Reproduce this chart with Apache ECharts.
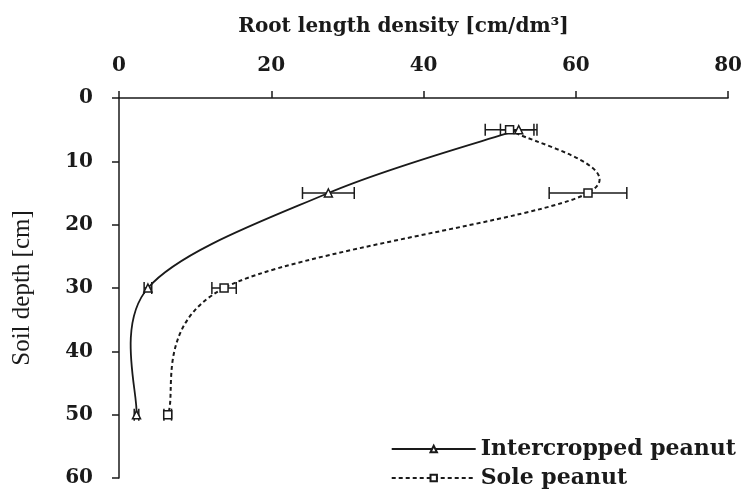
<!DOCTYPE html>
<html>
<head>
<meta charset="utf-8">
<script src="https://cdn.jsdelivr.net/npm/echarts@6/dist/echarts.min.js"></script>
<style>
  html, body { margin: 0; padding: 0; background: #fff; }
  #chart { width: 745px; height: 494px; }
</style>
</head>
<body>
<div id="chart"></div>
<script>
// soil depth of each sample [cm]
const depths = [5, 15, 30, 50];
// root length density [cm/dm3] and error
const intercropped = [52.5, 27.5, 3.8, 2.3];
const intercroppedErr = [2.4, 3.4, 0.5, 0.3];
const sole = [51.3, 61.6, 13.8, 6.4];
const soleErr = [3.2, 5.1, 1.6, 0.5];

const xTicks = [0, 20, 40, 60, 80];
const yTicks = [0, 10, 20, 30, 40, 50, 60];

const font = 'DejaVu Serif';
const ink = '#1a1a1a';

let myChart = echarts.init(document.getElementById('chart'));

function pairs (vals) {
  return vals.map((v, i) => [v, depths[i]]);
}
function errData (vals, errs) {
  return vals.map((v, i) => [v, depths[i], errs[i]]);
}

// horizontal error bar with caps
function renderErr (params, api) {
  let x = api.value(0);
  let y = api.value(1);
  let e = api.value(2);
  let p1 = api.coord([x - e, y]);
  let p2 = api.coord([x + e, y]);
  let h = 6;
  let style = { stroke: ink, lineWidth: 1.5 };
  return {
    type: 'group',
    children: [
      { type: 'line', shape: { x1: p1[0], y1: p1[1], x2: p2[0], y2: p2[1] }, style: style },
      { type: 'line', shape: { x1: p1[0], y1: p1[1] - h, x2: p1[0], y2: p1[1] + h }, style: style },
      { type: 'line', shape: { x1: p2[0], y1: p2[1] - h, x2: p2[0], y2: p2[1] + h }, style: style }
    ]
  };
}

// excel-like smoothed line: one bezier piece per segment (catmull-rom control points)
function smoothRenderer (vals, lineStyle) {
  return function (params, api) {
    let i = params.dataIndex;
    let n = vals.length;
    if (i >= n - 1) return null;
    let pt = k => {
      k = Math.max(0, Math.min(n - 1, k));
      return api.coord([vals[k], depths[k]]);
    };
    let p0 = pt(i - 1), p1 = pt(i), p2 = pt(i + 1), p3 = pt(i + 2);
    return {
      type: 'bezierCurve',
      shape: {
        x1: p1[0], y1: p1[1],
        x2: p2[0], y2: p2[1],
        cpx1: p1[0] + (p2[0] - p0[0]) / 6,
        cpy1: p1[1] + (p2[1] - p0[1]) / 6,
        cpx2: p2[0] - (p3[0] - p1[0]) / 6,
        cpy2: p2[1] - (p3[1] - p1[1]) / 6
      },
      style: Object.assign({ fill: null, stroke: ink }, lineStyle)
    };
  };
}

let option = {
  animation: false,
  grid: {
    left: 119,
    right: 14,
    top: 98,
    bottom: 16
  },
  xAxis: {
    type: 'value',
    position: 'top',
    min: 0,
    max: 80,
    interval: 20,
    name: 'Root length density [cm/dm³]',
    nameLocation: 'middle',
    nameGap: 61,
    nameTextStyle: { fontFamily: font, fontSize: 20, fontWeight: 'bold', color: ink, padding: [0, 40, 0, 0] },
    axisLine: { lineStyle: { color: ink, width: 1.5 } },
    axisTick: { show: true, length: 7, lineStyle: { color: ink, width: 1.5 } },
    axisLabel: {
      fontFamily: font, fontSize: 20, fontWeight: 'bold', color: ink, margin: 22,
      formatter: v => xTicks.includes(v) ? String(v) : ''
    },
    splitLine: { show: false }
  },
  yAxis: {
    type: 'value',
    inverse: true,
    min: 0,
    max: 60,
    interval: 10,
    name: 'Soil depth [cm]',
    nameLocation: 'middle',
    nameGap: 84,
    nameTextStyle: { fontFamily: 'Liberation Serif', fontSize: 25, color: ink },
    axisLine: { show: true, lineStyle: { color: ink, width: 1.5 } },
    axisTick: { show: true, length: 7, lineStyle: { color: ink, width: 1.5 } },
    axisLabel: {
      fontFamily: font, fontSize: 20, fontWeight: 'bold', color: ink, margin: 26,
      formatter: v => yTicks.includes(v) ? String(v) : ''
    },
    splitLine: { show: false }
  },
  legend: {
    orient: 'vertical',
    right: 4,
    bottom: 0,
    itemWidth: 84,
    itemHeight: 8,
    itemGap: 7,
    textStyle: { fontFamily: font, fontSize: 22, fontWeight: 'bold', color: ink },
    data: [
      { name: 'Intercropped peanut', lineStyle: { opacity: 1 } },
      { name: 'Sole peanut', lineStyle: { opacity: 1 } }
    ]
  },
  series: [
    {
      name: 'Intercropped peanut',
      type: 'line',
      data: pairs(intercropped),
      symbol: 'triangle',
      symbolSize: 8,
      itemStyle: { color: '#fff', borderColor: ink, borderWidth: 1.5 },
      lineStyle: { color: ink, width: 1.5, opacity: 0 },
      z: 4
    },
    {
      name: 'Sole peanut',
      type: 'line',
      data: pairs(sole),
      symbol: 'rect',
      symbolSize: 8,
      itemStyle: { color: '#fff', borderColor: ink, borderWidth: 1.5 },
      lineStyle: { color: ink, width: 1.5, type: [4, 3], opacity: 0 },
      z: 4
    },
    {
      type: 'custom',
      renderItem: smoothRenderer(intercropped, { lineWidth: 1.8 }),
      data: pairs(intercropped),
      z: 2
    },
    {
      type: 'custom',
      renderItem: smoothRenderer(sole, { lineWidth: 2, lineDash: [4, 3] }),
      data: pairs(sole),
      z: 2
    },
    {
      type: 'custom',
      renderItem: renderErr,
      data: errData(intercropped, intercroppedErr),
      z: 3
    },
    {
      type: 'custom',
      renderItem: renderErr,
      data: errData(sole, soleErr),
      z: 3
    }
  ]
};
myChart.setOption(option);
</script>
</body>
</html>
